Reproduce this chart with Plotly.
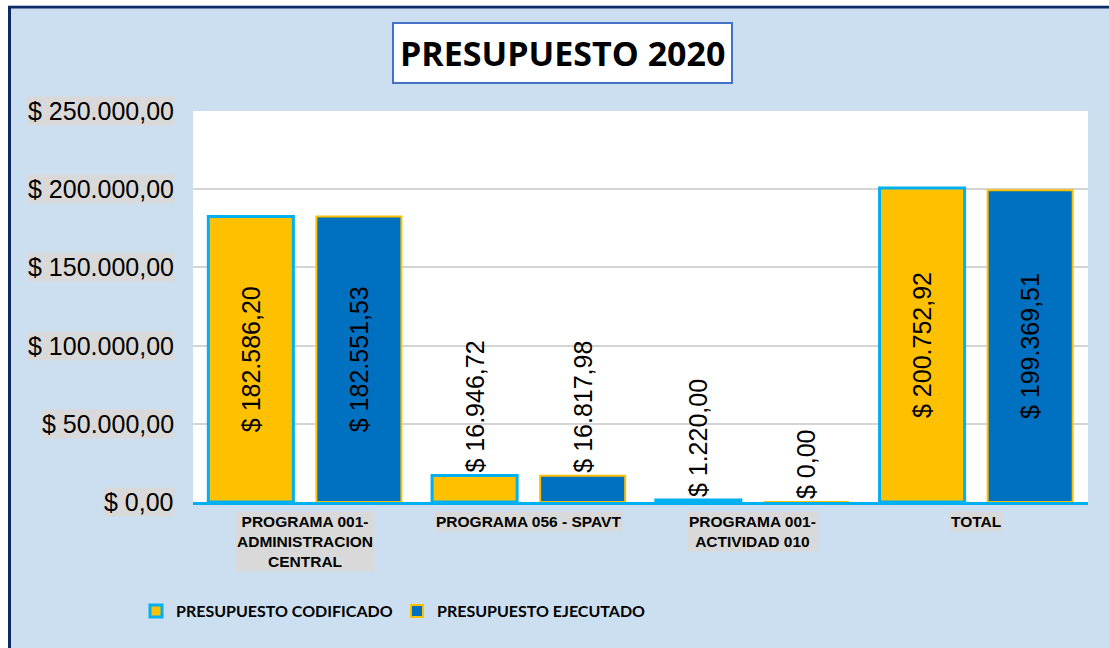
import plotly.graph_objects as go

# ---------------- data ----------------
categories = ["P001", "P056", "A010", "TOTAL"]
category_labels = [
    "PROGRAMA 001-<br>ADMINISTRACION<br>CENTRAL",
    "PROGRAMA 056 - SPAVT",
    "PROGRAMA 001-<br>ACTIVIDAD 010",
    "TOTAL",
]
codificado = [182586.20, 16946.72, 1220.00, 200752.92]
ejecutado = [182551.53, 16817.98, 0.00, 199369.51]
tick_values = [0, 50000, 100000, 150000, 200000, 250000]
tick_labels = ["$ 0,00", "$ 50.000,00", "$ 100.000,00", "$ 150.000,00",
               "$ 200.000,00", "$ 250.000,00"]
series_names = ["PRESUPUESTO CODIFICADO", "PRESUPUESTO EJECUTADO"]
title_text = "PRESUPUESTO 2020"

# ---------------- layout constants (pixels) ----------------
W, H = 1109, 648
PL, PR, PT, PB = 193, 1088, 111, 502
pw, ph = PR - PL, PB - PT

def px_x(px):
    return (px - PL) / pw

def px_y(py):
    return (PB - py) / ph

BG = "#CCDFF0"
YELLOW = "#FFC000"
CYAN = "#00B0F0"
BLUE = "#0070C0"
NAVY = "#0C2A66"
GREY = "#D9D9D9"
ARIAL = "Liberation Sans, Arial, sans-serif"

def positions(vals):
    return ["inside" if v > 60000 else "outside" for v in vals]

fig = go.Figure()
fig.add_trace(go.Bar(
    x=categories, y=codificado, name=series_names[0],
    marker=dict(color=YELLOW, line=dict(color=CYAN, width=3)),
    texttemplate="$ %{y:,.2f}", textposition=positions(codificado),
    textangle=-90, insidetextanchor="middle", constraintext="none",
    textfont=dict(family=ARIAL, size=25, color="black"),
    cliponaxis=False,
))
fig.add_trace(go.Bar(
    x=categories, y=ejecutado, name=series_names[1],
    marker=dict(color=BLUE, line=dict(color=YELLOW, width=2)),
    texttemplate="$ %{y:,.2f}", textposition=positions(ejecutado),
    textangle=-90, insidetextanchor="middle", constraintext="none",
    textfont=dict(family=ARIAL, size=25, color="black"),
    cliponaxis=False,
))

annotations = []
# y tick labels with grey background
for v, t in zip(tick_values, tick_labels):
    annotations.append(dict(
        x=0, xref="paper", y=v, yref="y", text=t, showarrow=False,
        xanchor="right", yanchor="middle", xshift=-18,
        font=dict(family=ARIAL, size=25, color="black"),
        bgcolor=GREY, borderpad=0,
    ))
# category labels with grey background
for c, lab in zip(categories, category_labels):
    annotations.append(dict(
        x=c, xref="x", y=0, yref="paper", text=lab, showarrow=False,
        xanchor="center", yanchor="top", yshift=-9,
        font=dict(family=ARIAL, size=15.5, color="black", weight="bold"),
        bgcolor=GREY, borderpad=1, align="center",
    ))
# title box
annotations.append(dict(
    x=px_x(562.5), xref="paper", y=px_y(53), yref="paper",
    text="<b>%s</b>" % title_text, showarrow=False,
    xanchor="center", yanchor="middle",
    font=dict(family="Open Sans, sans-serif", size=34, color="black"),
    bgcolor="white", bordercolor="#4472C4", borderwidth=2, borderpad=6,
))

shapes = [
    # outer frame (only top/left visible, rest cropped)
    dict(type="rect", xref="paper", yref="paper",
         x0=px_x(9.5), x1=px_x(W + 50), y0=px_y(7), y1=px_y(H + 50),
         line=dict(color=NAVY, width=3), fillcolor="rgba(0,0,0,0)", layer="above"),
    dict(type="rect", xref="paper", yref="paper",
         x0=px_x(-5), x1=px_x(8), y0=px_y(-5), y1=px_y(H + 5),
         line=dict(width=0), fillcolor="white", layer="above"),
    dict(type="rect", xref="paper", yref="paper",
         x0=px_x(-5), x1=px_x(W + 5), y0=px_y(-5), y1=px_y(5.5),
         line=dict(width=0), fillcolor="white", layer="above"),
]

fig.update_layout(
    width=W, height=H,
    margin=dict(l=PL, r=W - PR, t=PT, b=H - PB, pad=0, autoexpand=False),
    paper_bgcolor=BG, plot_bgcolor="white",
    barmode="group", bargap=0.034, bargroupgap=0.213,
    separators=",.",
    showlegend=True,
    legend=dict(
        orientation="h", x=px_x(136), xanchor="left", y=px_y(611), yanchor="middle",
        font=dict(family="Lato, Liberation Sans, sans-serif", size=16,
                  color="black", weight="bold"),
        bgcolor="rgba(0,0,0,0)", entrywidth=216, itemwidth=30,
    ),
    annotations=annotations,
    shapes=shapes,
    xaxis=dict(showticklabels=False, showgrid=False, zeroline=False,
               showline=True, linecolor=CYAN, linewidth=3, ticks=""),
    yaxis=dict(range=[0, 250000], tickvals=tick_values, showticklabels=False,
               showgrid=True, gridcolor="#D4D4D4", gridwidth=1.5,
               zeroline=False, showline=False, ticks=""),
)

fig.write_html(
    "out.html",
    config={"displayModeBar": False},
    post_script="document.body.style.margin='0';document.body.style.overflow='hidden';",
)
